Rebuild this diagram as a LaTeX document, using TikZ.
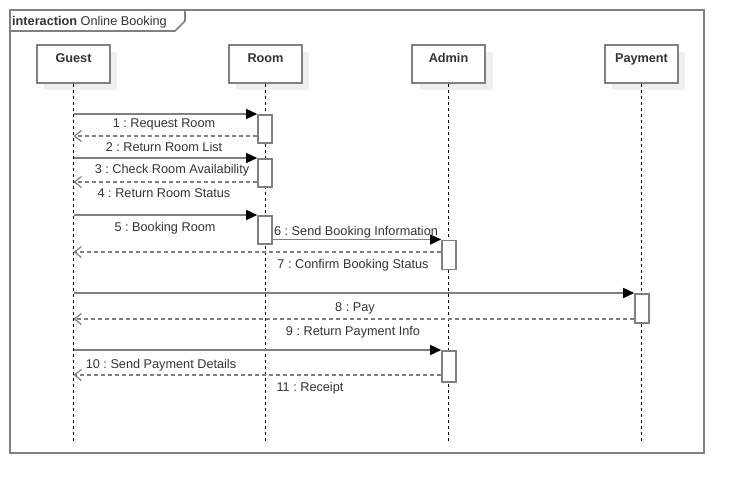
\documentclass[tikz,border=0pt]{standalone}
\usepackage{fontspec}
\setmainfont{Liberation Sans}
\usetikzlibrary{arrows.meta,calc}
\frenchspacing
\definecolor{lgray}{HTML}{808080}
\definecolor{shad}{HTML}{EEEEEE}
\definecolor{txt}{HTML}{333333}
\tikzset{
  frameline/.style={draw=lgray,line width=1.6pt},
  lifebox/.style={draw=lgray,line width=1.6pt,fill=white,minimum width=73pt,minimum height=38pt,inner sep=0pt},
  lifeshadow/.style={fill=shad,draw=none,minimum width=73pt,minimum height=38pt,inner sep=0pt},
  lifeline/.style={draw=black,line width=0.8pt,dash pattern=on 3pt off 3pt},
  actbox/.style={draw=lgray,line width=1.6pt,fill=white,minimum width=14pt,inner sep=0pt,anchor=north},
  callmsg/.style={draw=lgray,line width=1.5pt,-{Triangle[length=11pt,width=10pt,color=black,fill=black]}},
  retmsg/.style={draw=lgray,line width=1.5pt,dash pattern=on 4pt off 3pt,-{Straight Barb[length=7pt,width=11pt,color=lgray,line width=1.2pt]}},
  msglabel/.style={text=txt,font=\fontsize{12.7}{14}\selectfont,inner sep=0pt,anchor=base},
  lifetitle/.style={text=txt,font=\fontsize{12.7}{14}\selectfont\bfseries,inner sep=0pt,anchor=base}
}
\begin{document}
\begin{tikzpicture}[x=1pt,y=-1pt]
\useasboundingbox (0,0) rectangle (744,493);
% frame
\draw[frameline] (10,10) rectangle (704,453);
\draw[frameline] (10,31) -- (175,31) -- (185,21) -- (185,10);
\node[anchor=base west,inner sep=0pt,text=txt,font=\fontsize{12.7}{14}\selectfont] (title) at (12,25) {\textbf{interaction} Online Booking};
% lifeline shadows
\node[lifeshadow] (sg) at (80.5,71) {};
\node[lifeshadow] (sr) at (272.5,71) {};
\node[lifeshadow] (sa) at (456.5,71) {};
\node[lifeshadow] (sp) at (648.5,71) {};
% lifeline boxes
\node[lifebox] (guest) at (73.5,64) {};
\node[lifebox] (room) at (265.5,64) {};
\node[lifebox] (admin) at (448.5,64) {};
\node[lifebox] (pay) at (641.5,64) {};
\node[lifetitle] (tg) at (73.5,62) {Guest};
\node[lifetitle] (tr) at (265.5,62) {Room};
\node[lifetitle] (ta) at (448.5,62) {Admin};
\node[lifetitle] (tp) at (641.5,62) {Payment};
% lifelines
\coordinate (ge) at (73.5,442);
\coordinate (re) at (265.5,442);
\coordinate (ae) at (448.5,442);
\coordinate (pe) at (641.5,442);
\draw[lifeline] (guest.south) -- (ge);
\draw[lifeline] (room.south) -- (re);
\draw[lifeline] (admin.south) -- (ae);
\draw[lifeline] (pay.south) -- (pe);
% activations
\node[actbox,minimum height=28pt] (r1) at (265,114) {};
\node[actbox,minimum height=28pt] (r2) at (265,158) {};
\node[actbox,minimum height=28pt] (r3) at (265,215) {};
\node[actbox,minimum height=29pt] (a1) at (449,239.5) {};
\node[actbox,minimum height=29pt] (p1) at (642,293) {};
\node[actbox,minimum height=31pt] (a2) at (449,350) {};
% message rows
\coordinate (m2) at (0,136);
\coordinate (m4) at (0,182);
\coordinate (m7) at (0,252);
\coordinate (m9) at (0,319);
\coordinate (m11) at (0,375);
% messages
\draw[callmsg] (guest.south |- r1.north west) -- (r1.north west);
\draw[retmsg] (r1.west |- m2) -- (guest.south |- m2);
\draw[callmsg] (guest.south |- r2.north west) -- (r2.north west);
\draw[retmsg] (r2.west |- m4) -- (guest.south |- m4);
\draw[callmsg] (guest.south |- r3.north west) -- (r3.north west);
\draw[callmsg] (r3.east |- a1.north west) -- (a1.north west);
\draw[retmsg] (a1.west |- m7) -- (guest.south |- m7);
\draw[callmsg] (guest.south |- p1.north west) -- (p1.north west);
\draw[retmsg] (p1.west |- m9) -- (guest.south |- m9);
\draw[callmsg] (guest.south |- a2.north west) -- (a2.north west);
\draw[retmsg] (a2.west |- m11) -- (guest.south |- m11);
% labels
\node[msglabel] (l1) at (164,127) {1 : Request Room};
\node[msglabel] (l2) at (164,151) {2 : Return Room List};
\node[msglabel] (l3) at (172,173) {3 : Check Room Availability};
\node[msglabel] (l4) at (164,197) {4 : Return Room Status};
\node[msglabel] (l5) at (165,231) {5 : Booking Room};
\node[msglabel] (l6) at (356,235) {6 : Send Booking Information};
\node[msglabel] (l7) at (353,268) {7 : Confirm Booking Status};
\node[msglabel] (l8) at (355,311) {8 : Pay};
\node[msglabel] (l9) at (353,335) {9 : Return Payment Info};
\node[msglabel] (l10) at (161,368) {10 : Send Payment Details};
\node[msglabel] (l11) at (310,391) {11 : Receipt};
\end{tikzpicture}
\end{document}
